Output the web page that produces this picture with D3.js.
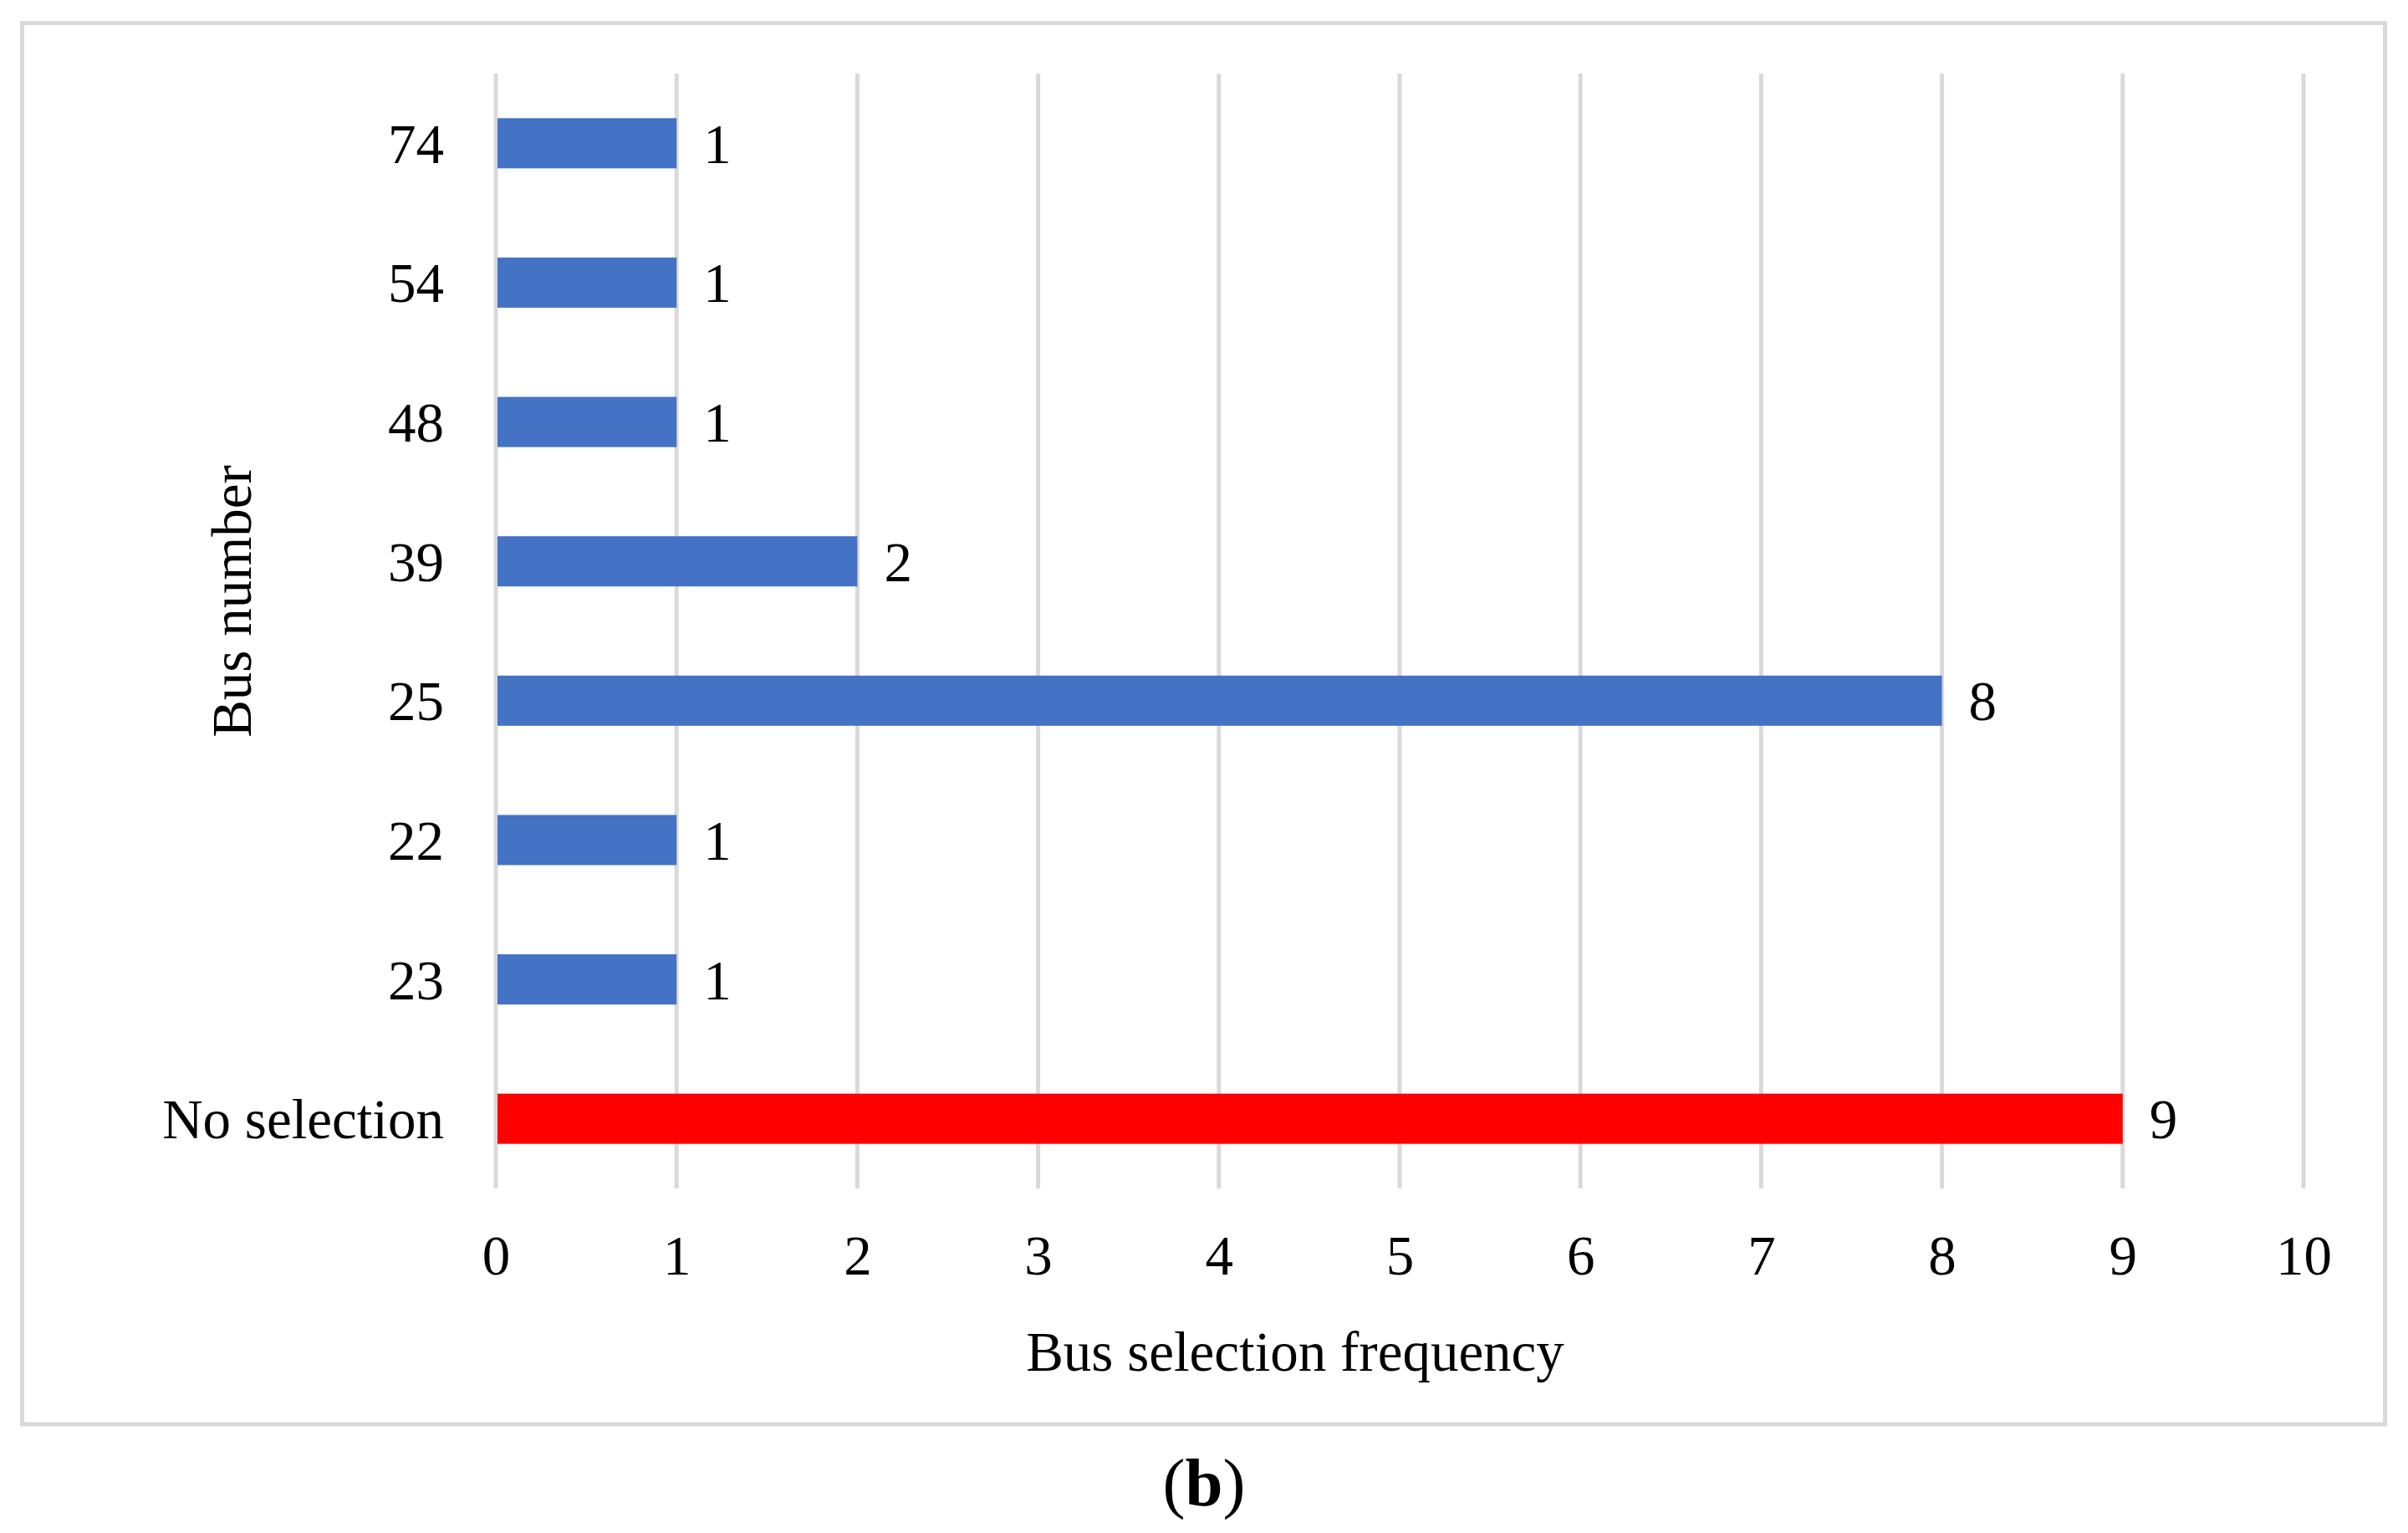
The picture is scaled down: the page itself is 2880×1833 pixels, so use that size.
<!DOCTYPE html>
<html>
<head>
<meta charset="utf-8">
<script src="https://cdn.jsdelivr.net/npm/d3@7"></script>
<style>
  html, body { margin: 0; padding: 0; background: #ffffff; }
  svg { display: block; }
  text { font-family: "Liberation Serif", "Times New Roman", serif; fill: #000; }
</style>
</head>
<body>
<script>
const categories = ["74", "54", "48", "39", "25", "22", "23", "No selection"];
const values = [1, 1, 1, 2, 8, 1, 1, 9];
const highlighted = ["No selection"];
const xTicks = [0, 1, 2, 3, 4, 5, 6, 7, 8, 9, 10];
const xTitle = "Bus selection frequency";
const yTitle = "Bus number";
const caption = "b";

const W = 2880, H = 1833;
const plot = { left: 593, right: 2755, top: 88, bottom: 1421 };
const fontSize = 67;

const svg = d3.select("body").append("svg").attr("width", W).attr("height", H);

// frame
svg.append("rect")
  .attr("x", 26.5).attr("y", 27.5)
  .attr("width", 2826).attr("height", 1675.5)
  .attr("fill", "none").attr("stroke", "#d9d9d9").attr("stroke-width", 5);

const x = d3.scaleLinear().domain([0, 10]).range([plot.left, plot.right]);
const y = d3.scaleBand().domain(categories).range([plot.top, plot.bottom])
  .paddingInner(0.64).paddingOuter(0.32);

// gridlines
svg.append("g").selectAll("line").data(xTicks).join("line")
  .attr("x1", d => x(d)).attr("x2", d => x(d))
  .attr("y1", plot.top).attr("y2", plot.bottom)
  .attr("stroke", "#d9d9d9").attr("stroke-width", 5);

// x axis tick labels
const xAxis = d3.axisBottom(x).tickValues(xTicks).tickSize(0).tickPadding(0).tickFormat(d3.format("d"));
const gx = svg.append("g").attr("transform", `translate(0,${plot.bottom})`).call(xAxis);
gx.select(".domain").remove();
gx.selectAll("text")
  .attr("y", 103).attr("dy", null)
  .style("font-family", '"Liberation Serif", "Times New Roman", serif')
  .style("font-size", fontSize + "px").attr("fill", "#000");

// y axis labels
const yAxis = d3.axisLeft(y).tickSize(0).tickPadding(0);
const gy = svg.append("g").attr("transform", `translate(${plot.left},0)`).call(yAxis);
gy.select(".domain").remove();
gy.selectAll("text")
  .attr("x", -62).attr("dy", "0.35em")
  .style("font-family", '"Liberation Serif", "Times New Roman", serif')
  .style("font-size", fontSize + "px").attr("fill", "#000");

const data = categories.map((c, i) => ({ c, v: values[i] }));

// bars
svg.append("g").selectAll("rect").data(data).join("rect")
  .attr("x", x(0) + 2)
  .attr("y", d => y(d.c))
  .attr("width", d => x(d.v) - x(0) - 2)
  .attr("height", y.bandwidth())
  .attr("fill", d => highlighted.includes(d.c) ? "#ff0000" : "#4472c4");

// value labels
svg.append("g").selectAll("text").data(data).join("text")
  .attr("x", d => x(d.v) + 32)
  .attr("y", d => y(d.c) + y.bandwidth() / 2)
  .attr("dy", "0.35em")
  .style("font-size", fontSize + "px")
  .text(d => d.v);

// axis titles
svg.append("text")
  .attr("x", 1549).attr("y", 1639)
  .attr("text-anchor", "middle")
  .style("font-size", fontSize + "px")
  .text(xTitle);

svg.append("text")
  .attr("transform", `translate(300,719) rotate(-90)`)
  .attr("text-anchor", "middle")
  .style("font-size", fontSize + "px")
  .text(yTitle);

// caption
const cap = svg.append("text")
  .attr("x", 1440).attr("y", 1800)
  .attr("text-anchor", "middle")
  .style("font-size", "81px");
cap.append("tspan").text("(");
cap.append("tspan").style("font-weight", "bold").text(caption);
cap.append("tspan").text(")");
</script>
</body>
</html>
